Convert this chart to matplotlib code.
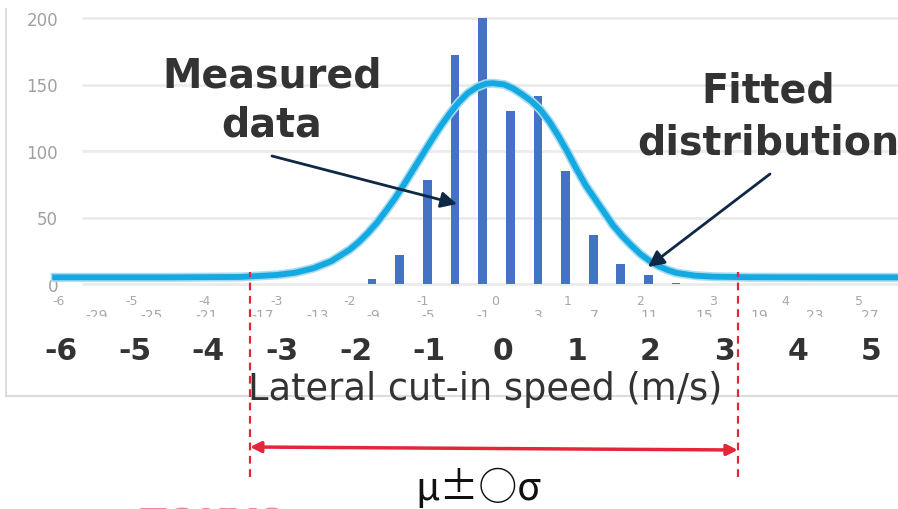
#!/usr/bin/env python3

import matplotlib
matplotlib.use('Agg')
import matplotlib.pyplot as plt

# Measured data: histogram bins (m/s) and counts
bin_centers = [-1.69, -1.31, -0.93, -0.55, -0.17, 0.21, 0.59, 0.97, 1.35, 1.73, 2.11, 2.49]
bin_counts = [4, 22, 78, 172, 200, 130, 141, 85, 37, 15, 7, 1]

# Fitted distribution
curve_x = [-6.05, -4.5, -3.5, -3.0, -2.75, -2.5, -2.25, -2.0, -1.875, -1.75,
           -1.625, -1.5, -1.375, -1.25, -1.125, -1.0, -0.875, -0.75, -0.625,
           -0.5, -0.375, -0.25, -0.125, -0.03, 0.125, 0.25, 0.375, 0.5, 0.625,
           0.75, 0.875, 1.0, 1.125, 1.25, 1.375, 1.5, 1.625, 1.75, 1.875, 2.0,
           2.125, 2.25, 2.375, 2.5, 2.75, 3.0, 3.5, 4.5, 5.55]
curve_y = [5, 5, 5.3, 6.8, 8.5, 11.8, 17.2, 25.8, 31.5, 38.3,
           46, 55, 64.5, 75, 86, 97, 108, 118.5, 128,
           136.5, 143.5, 148, 150.6, 151, 150, 147, 142.5, 137.5, 131,
           122, 111, 99, 86, 74, 64, 54, 44, 36, 29, 22.5,
           17.5, 13.5, 10.5, 8.3, 6.3, 5.5, 5.1, 5, 5]

# Chart axis labels
y_ticks = [0, 50, 100, 150, 200]
x_ticks = list(range(-6, 6))
secondary_ticks = list(range(-29, 28, 4))
big_ticks = list(range(-6, 6))

# mu +/- k sigma interval bounds (m/s)
interval_bounds = [-3.37, 3.34]

# pixel <-> data helpers (figure is 898 x 510 px)
W, H = 898, 510
X0_PX, PX_PER_X = 495.0, 72.7
Y0_PX, PX_PER_V = 285.0, 1.33


def px2x(px):
    return (px - X0_PX) / PX_PER_X


def py2v(py):
    return (Y0_PX - py) / PX_PER_V


plt.rcParams['axes.unicode_minus'] = False
plt.rcParams['font.family'] = ['DejaVu Sans']

fig = plt.figure(figsize=(W / 100, H / 100), dpi=100)
ax = fig.add_axes([0, 0, 1, 1])
ax.set_xlim(px2x(0), px2x(W))
ax.set_ylim(py2v(H), py2v(0))
ax.patch.set_alpha(0)
for s in ax.spines.values():
    s.set_visible(False)

# chart frame
frame_col = '#dcdcdc'
ax.plot([px2x(6), px2x(6)], [py2v(10), py2v(397)], color=frame_col, lw=1.5, zorder=1)
ax.plot([px2x(6), px2x(W)], [py2v(397), py2v(397)], color=frame_col, lw=1.5, zorder=1)

# gridlines
ax.hlines(y_ticks, px2x(82), px2x(W), color='#ebebeb', lw=2, zorder=1)

# faint original axis labels
ax.spines['bottom'].set_position(('data', 0))
ax.spines['left'].set_position(('data', px2x(61)))
ax.set_xticks(x_ticks, labels=[str(t) for t in x_ticks])
ax.set_yticks(y_ticks, labels=[str(t) for t in y_ticks])
ax.tick_params(axis='x', length=0, pad=7, labelsize=9, labelcolor='#a8a8a8')
ax.tick_params(axis='y', length=0, pad=2, labelsize=12, labelcolor='#a0a0a0')

# second row of faint labels, cut off at the bottom
strip = fig.add_axes([0, 1 - 318 / H, 1, 28 / H])
strip.set_xlim(ax.get_xlim())
strip.set_ylim(0, 1)
strip.axis('off')
for s in secondary_ticks:
    t = strip.text(0.03 + 0.19 * s, 0.08, str(s), ha='center', va='center',
                   fontsize=10, color='#a8a8a8')
    t.set_clip_box(strip.bbox)
    t.set_clip_on(True)

# bars and fitted curve
ax.bar(bin_centers, bin_counts, width=0.12, color='#4472c4', zorder=3)
ax.plot(curve_x, curve_y, color='#a6dcf2', lw=6.5, solid_joinstyle='round', zorder=4)
ax.plot(curve_x, curve_y, color='#15a9e1', lw=4.2, solid_joinstyle='round', zorder=5)

# big speed axis labels
sec = ax.secondary_xaxis(1 - 334 / H,
                         functions=(lambda x: (x - 0.11) / 1.0138,
                                    lambda b: b * 1.0138 + 0.11))
sec.set_xticks(big_ticks, labels=[str(t) for t in big_ticks],
               fontsize=21.5, fontweight='bold', color='#333333')
sec.tick_params(axis='x', length=0, pad=2)
for s in sec.spines.values():
    s.set_visible(False)

ax.text(px2x(485), py2v(400), 'Lateral cut-in speed (m/s)', ha='center',
        va='baseline', fontsize=26.5, color='#333333', zorder=6)

# annotations
txt = dict(ha='center', va='baseline', fontsize=28.5, fontweight='bold',
           color='#333333', zorder=6)
ax.text(px2x(272), py2v(88), 'Measured', **txt)
ax.text(px2x(272), py2v(137), 'data', **txt)
ax.text(px2x(768), py2v(103), 'Fitted', **txt)
ax.text(px2x(768), py2v(155), 'distribution', **txt)

navy = '#0f2846'
arr = dict(arrowstyle='-|>', color=navy, lw=2, mutation_scale=24,
           shrinkA=0, shrinkB=0)
ax.annotate('', xy=(px2x(457), py2v(205)), xytext=(px2x(272), py2v(157)),
            arrowprops=arr, zorder=7)
ax.annotate('', xy=(px2x(648), py2v(268)), xytext=(px2x(770), py2v(175)),
            arrowprops=arr, zorder=7)

# interval markers
red = '#e4263a'
ax.vlines(interval_bounds, py2v(478), py2v(273), color=red, lw=1.6,
          linestyles=(0, (3.5, 2.5)), zorder=6)
ax.annotate('', xy=(interval_bounds[1], py2v(451)),
            xytext=(interval_bounds[0], py2v(448)),
            arrowprops=dict(arrowstyle='<|-|>', color=red, lw=2.5,
                            mutation_scale=16, shrinkA=0, shrinkB=0), zorder=7)
ax.text(px2x(478), py2v(500), 'μ±○σ', ha='center', va='baseline',
        fontsize=28, color='#111111', family=['Noto Sans CJK JP', 'DejaVu Sans'])

# partly visible logo at the bottom
ax.text(px2x(140), py2v(507), 'TOKYO', ha='left', va='top', fontsize=28,
        fontweight='bold', color='#e88aa2')

fig.savefig('out.png', dpi=100)
plt.close(fig)
